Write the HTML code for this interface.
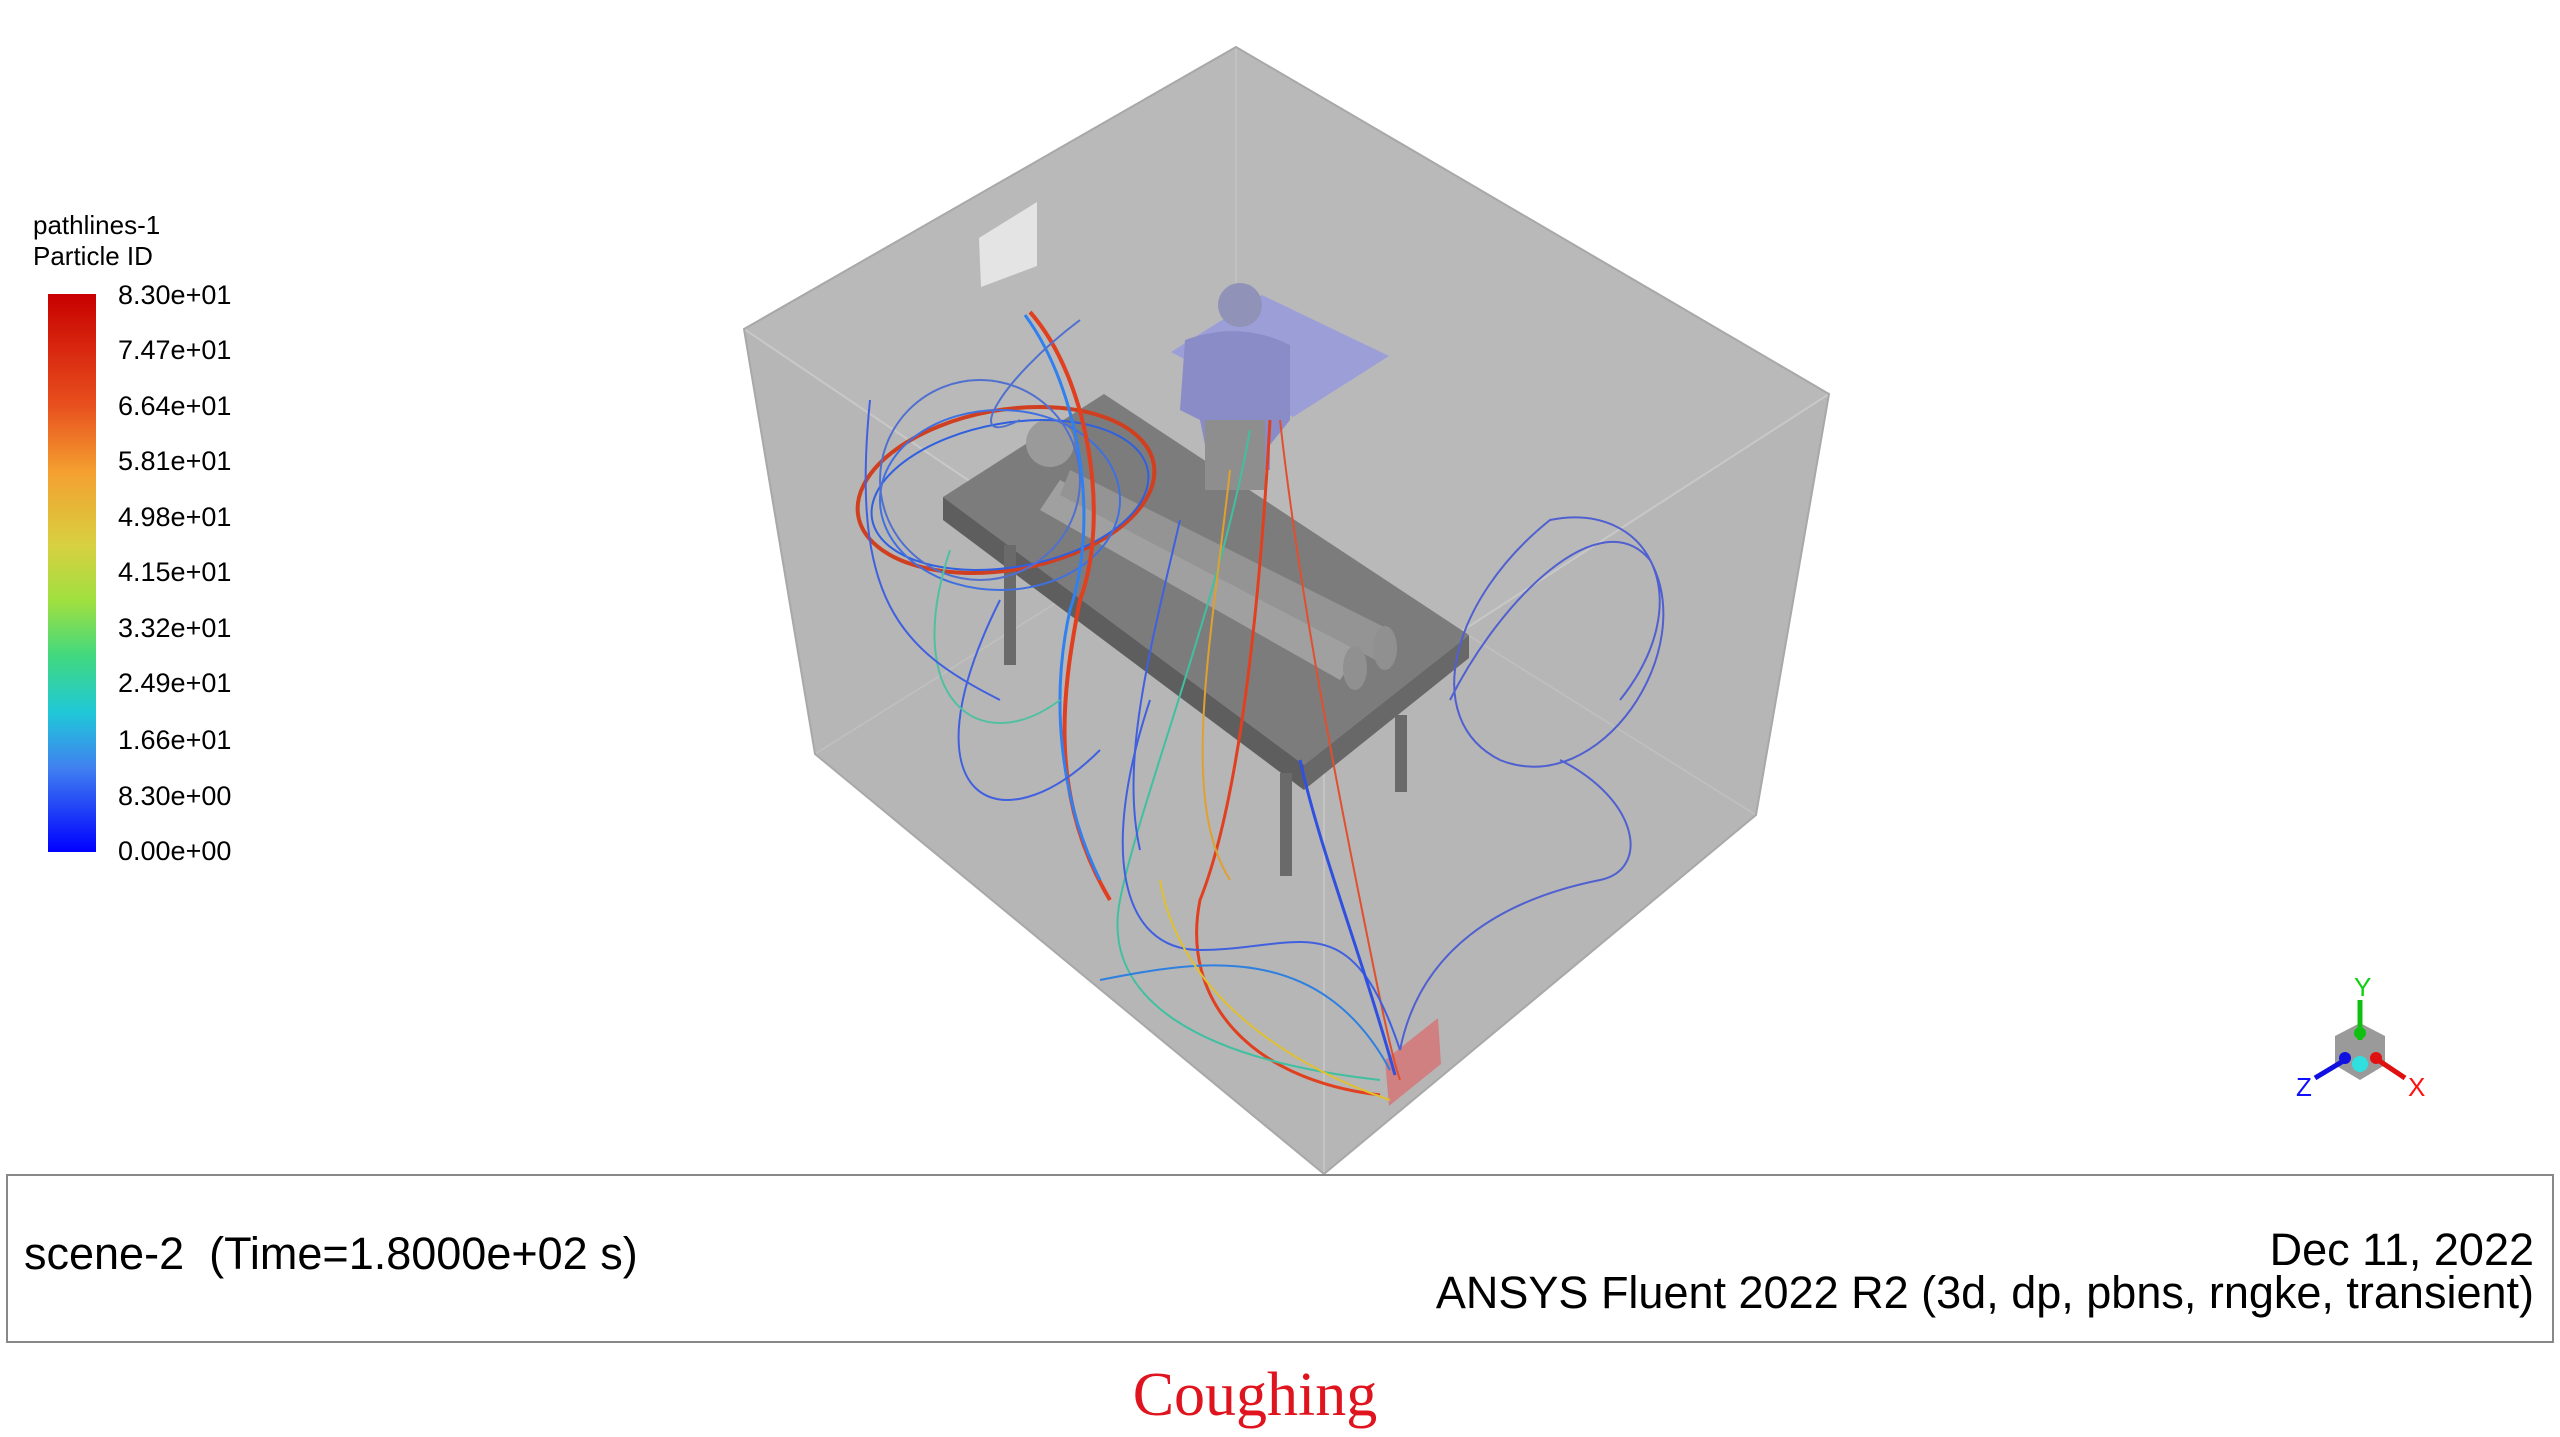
<!DOCTYPE html>
<html><head><meta charset="utf-8"><style>
html,body{margin:0;padding:0;background:#fff;}
body{width:2560px;height:1437px;position:relative;overflow:hidden;font-family:"Liberation Sans",sans-serif;}
.t{position:absolute;color:#000;white-space:nowrap;}
.l{position:absolute;left:118px;font-size:27px;white-space:nowrap;}
</style></head><body>
<svg width="2560" height="1437" style="position:absolute;left:0;top:0">
<defs>
<linearGradient id="cb" x1="0" y1="0" x2="0" y2="1">
<stop offset="0" stop-color="#c80000"/><stop offset="0.2" stop-color="#e8501e"/><stop offset="0.32" stop-color="#f4a030"/>
<stop offset="0.45" stop-color="#d8d040"/><stop offset="0.55" stop-color="#a0e040"/><stop offset="0.65" stop-color="#40d880"/>
<stop offset="0.75" stop-color="#20c8d8"/><stop offset="0.85" stop-color="#4080f0"/><stop offset="1" stop-color="#0000ff"/>
</linearGradient>
</defs>
<rect x="48" y="294" width="48" height="558" fill="url(#cb)"/>
<polygon points="1236,47 744,329 815,754 1324,1174 1756,815 1829,394" fill="#b6b6b6"/>
<polygon points="744,329 1324,720 1829,394 1236,47" fill="#b9b9b9"/>
<polyline points="744,329 1324,720 1829,394" fill="none" stroke="#c8c8c8" stroke-width="2"/>
<line x1="1324" y1="720" x2="1324" y2="1174" stroke="#c4c4c4" stroke-width="2"/>
<line x1="1236" y1="47" x2="1236" y2="490" stroke="#c4c4c4" stroke-width="1.5"/>
<polyline points="815,754 1236,490 1756,815" fill="none" stroke="#c0c0c0" stroke-width="1.5"/>
<polygon points="1236,47 744,329 815,754 1324,1174 1756,815 1829,394" fill="none" stroke="#a8a8a8" stroke-width="2"/>
<polygon points="979,238 1037,202 1037,266 981,287" fill="#e4e4e4"/>
<polygon points="1171,352 1262,295 1389,356 1293,417" fill="#9c9ed8"/>
<polygon points="943,497 1104,394 1469,635 1304,765" fill="#7c7c7c"/>
<polygon points="943,497 1304,765 1304,790 943,520" fill="#5e5e5e"/>
<polygon points="1304,765 1469,635 1469,658 1304,790" fill="#686868"/>
<rect x="1004" y="545" width="12" height="120" fill="#6a6a6a"/>
<rect x="1395" y="715" width="12" height="77" fill="#6a6a6a"/>
<rect x="1280" y="773" width="12" height="103" fill="#6a6a6a"/>
<circle cx="1050" cy="443" r="24" fill="#9a9a9a"/>
<path d="M1060,480 L1360,650 L1340,680 L1040,510 Z" fill="#a0a0a0"/>
<path d="M1070,470 L1390,630 L1385,665 L1060,495 Z" fill="#949494"/>
<ellipse cx="1385" cy="648" rx="12" ry="22" fill="#909090"/>
<ellipse cx="1355" cy="668" rx="12" ry="22" fill="#909090"/>
<circle cx="1240" cy="305" r="22" fill="#9092b8"/>
<path d="M1185,340 Q1240,320 1290,345 L1290,420 L1270,445 L1270,470 L1210,470 L1200,420 L1180,410 Z" fill="#8a8cc8"/>
<rect x="1205" y="420" width="60" height="70" fill="#8e8e8e"/>
<polygon points="1385,1060 1438,1018 1441,1064 1389,1106" fill="#d08080"/>
<g fill="none" stroke-width="2">
<ellipse cx="1006" cy="490" rx="150" ry="80" transform="rotate(-10 1006 490)" stroke="#d04020" stroke-width="4"/>
<ellipse cx="1010" cy="495" rx="140" ry="72" transform="rotate(-10 1010 495)" stroke="#3060e0"/>
<ellipse cx="1000" cy="500" rx="120" ry="90" stroke="#4070e0"/>
<ellipse cx="980" cy="480" rx="100" ry="100" stroke="#5070d0"/>
<path d="M1030,312 C1090,380 1110,520 1080,600 C1060,700 1050,800 1110,900" stroke="#e04020" stroke-width="4"/>
<path d="M1025,315 C1080,390 1100,520 1070,610 C1050,700 1060,800 1100,880" stroke="#3080f0" stroke-width="3"/>
<path d="M1270,420 C1260,600 1240,800 1200,900 C1180,1000 1250,1080 1380,1095" stroke="#e04020" stroke-width="3"/>
<path d="M1280,420 C1300,600 1340,800 1360,900 C1380,1000 1390,1050 1400,1080" stroke="#e05030"/>
<path d="M1250,430 C1220,600 1140,800 1120,900 C1100,1000 1200,1060 1380,1080" stroke="#40c0a0"/>
<path d="M1150,700 C1100,850 1120,950 1200,950 C1300,950 1350,900 1400,1050" stroke="#4060e0"/>
<path d="M1000,600 C900,800 1000,850 1100,750" stroke="#4060e0"/>
<path d="M950,550 C900,700 980,760 1060,700" stroke="#50c0a0"/>
<path d="M1450,700 C1500,600 1600,500 1650,560 C1700,650 1600,800 1500,760 C1420,720 1450,600 1550,520 C1650,500 1700,600 1620,700" stroke="#5060d0"/>
<path d="M1400,1050 C1420,950 1500,900 1600,880 C1650,870 1640,800 1560,760" stroke="#5060d0"/>
<path d="M1100,980 C1200,960 1320,940 1390,1070" stroke="#3080e0"/>
<path d="M1160,880 C1180,1000 1300,1070 1390,1100" stroke="#e0c030"/>
<path d="M1300,760 C1320,850 1360,950 1395,1075" stroke="#3050e0" stroke-width="3"/>
<path d="M1180,520 C1150,650 1120,760 1140,850" stroke="#4060e0"/>
<path d="M1230,470 C1210,650 1180,800 1230,880" stroke="#e0a030"/>
<path d="M870,400 C850,600 900,650 1000,700" stroke="#4060e0"/>
<path d="M1080,320 C1000,380 960,450 1020,420" stroke="#5070d0"/>
</g>
<polygon points="2360,1023 2385,1036 2385,1065 2360,1080 2335,1065 2335,1036" fill="#9a9a9a"/>
<line x1="2360" y1="1040" x2="2360" y2="1000" stroke="#10c010" stroke-width="5"/>
<line x1="2345" y1="1060" x2="2315" y2="1078" stroke="#1010e0" stroke-width="5"/>
<line x1="2378" y1="1060" x2="2405" y2="1078" stroke="#e01010" stroke-width="5"/>
<circle cx="2360" cy="1064" r="8" fill="#30e0e0"/>
<circle cx="2345" cy="1058" r="6" fill="#1010e0"/>
<circle cx="2376" cy="1058" r="6" fill="#e01010"/>
<circle cx="2360" cy="1033" r="6" fill="#10c010"/>
<text x="2354" y="996" font-family="Liberation Sans" font-size="26" fill="#10d010">Y</text>
<text x="2296" y="1096" font-family="Liberation Sans" font-size="26" fill="#1010ff">Z</text>
<text x="2408" y="1096" font-family="Liberation Sans" font-size="26" fill="#ff1010">X</text>
<rect x="7" y="1175" width="2546" height="167" fill="#fff" stroke="#888" stroke-width="2"/>
</svg>
<div class="t" style="left:33px;top:210px;font-size:26px;line-height:31px">pathlines-1<br>Particle ID</div>
<div class="l" style="top:280px">8.30e+01</div>
<div class="l" style="top:335px">7.47e+01</div>
<div class="l" style="top:391px">6.64e+01</div>
<div class="l" style="top:446px">5.81e+01</div>
<div class="l" style="top:502px">4.98e+01</div>
<div class="l" style="top:557px">4.15e+01</div>
<div class="l" style="top:613px">3.32e+01</div>
<div class="l" style="top:668px">2.49e+01</div>
<div class="l" style="top:725px">1.66e+01</div>
<div class="l" style="top:781px">8.30e+00</div>
<div class="l" style="top:836px">0.00e+00</div>
<div class="t" style="left:24px;top:1228px;font-size:45px">scene-2&nbsp; (Time=1.8000e+02 s)</div>
<div class="t" style="right:26px;top:1228px;font-size:45px;text-align:right;line-height:43px">Dec 11, 2022<br>ANSYS Fluent 2022 R2 (3d, dp, pbns, rngke, transient)</div>
<div class="t" style="left:0;width:2510px;text-align:center;top:1360px;font-size:62px;color:#e0141e;font-family:'Liberation Serif',serif">Coughing</div>
</body></html>
